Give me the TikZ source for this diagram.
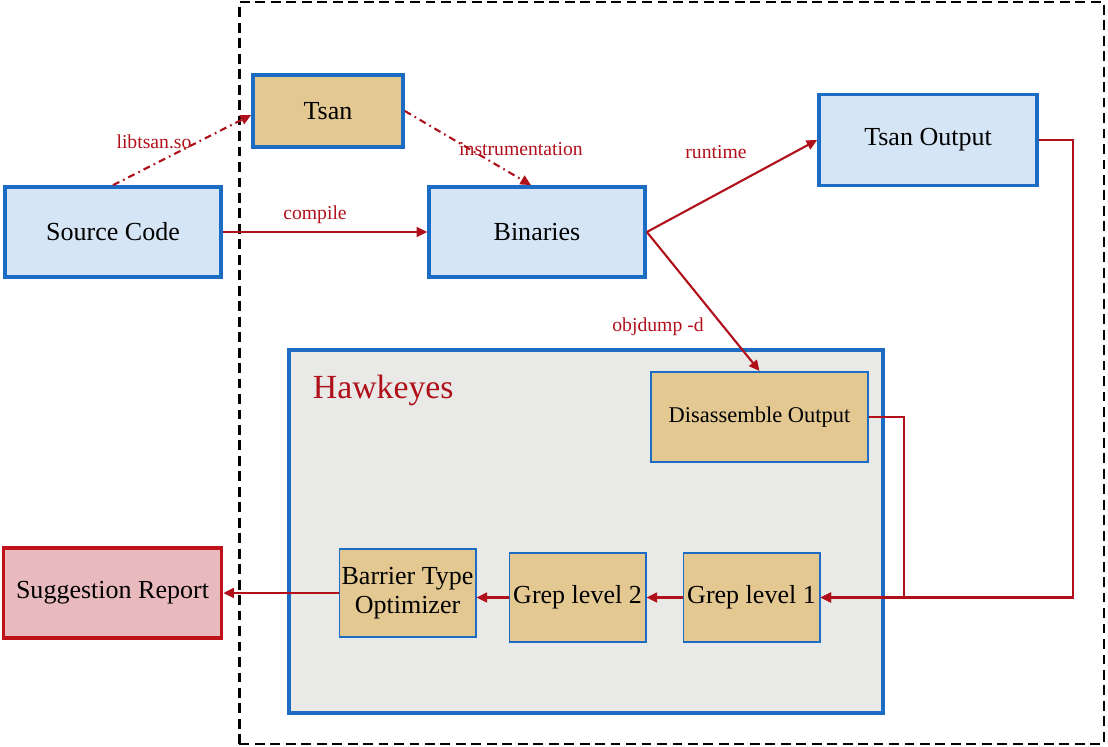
\documentclass[tikz,border=0pt]{standalone}
\usepackage{fontspec}
\setmainfont{Liberation Serif}
\usetikzlibrary{arrows.meta,calc}
\definecolor{HKblue}{HTML}{1C6CC4}
\definecolor{HKsky}{HTML}{D5E5F5}
\definecolor{HKtan}{HTML}{E4C892}
\definecolor{HKgrey}{HTML}{E9E9E7}
\definecolor{HKred}{HTML}{B0101A}
\definecolor{HKrose}{HTML}{E8B9BD}
\definecolor{HKdark}{HTML}{C0101A}
\tikzset{
  stagebox/.style={draw=HKblue, fill=HKsky, line width=2.6pt, align=center, minimum width=5.4cm, minimum height=2.25cm, font=\fontsize{18.5}{21}\selectfont},
  tanbox/.style={draw=HKblue, fill=HKtan, line width=1.4pt, align=center, minimum width=3.4cm, minimum height=2.22cm, inner sep=1pt, font=\fontsize{18.5}{21}\selectfont},
  reportbox/.style={draw=HKdark, fill=HKrose, line width=2.6pt, align=center, minimum width=5.45cm, minimum height=2.25cm, font=\fontsize{18.5}{21}\selectfont},
  flowline/.style={draw=HKred, line width=1.5pt, -{Triangle[length=7.5pt, width=7pt]}},
  toolline/.style={flowline, dash pattern=on 5pt off 3pt on 1.2pt off 3pt},
  edgetag/.style={text=HKred, font=\fontsize{14}{16}\selectfont, inner sep=1pt}
}
\begin{document}
\begin{tikzpicture}[x=0.025cm, y=-0.025cm]
\useasboundingbox (0,0) rectangle (1108,747);
% outer frame and Hawkeyes area
\node[draw=black, line width=1.6pt, dash pattern=on 7pt off 4pt, minimum width=21.6cm, minimum height=18.53cm] (frame) at (671.5,373) {};
\node[draw=HKblue, fill=HKgrey, line width=2.6pt, minimum width=14.85cm, minimum height=9.07cm] (hawk) at (586,531.5) {};
\node[anchor=west, text=HKred, font=\fontsize{24}{28}\selectfont] (hawktitle) at (308,390) {Hawkeyes};

% top row
\node[stagebox] (src) at (113,232) {Source Code};
\node[stagebox, fill=HKtan, minimum width=3.75cm, minimum height=1.8cm] (tsan) at (328,111) {Tsan};
\node[stagebox] (bin) at (537,232) {Binaries};
\node[stagebox, minimum width=5.45cm, minimum height=2.27cm] (tout) at (928,140) {Tsan Output};

% inside Hawkeyes
\node[tanbox, minimum width=5.42cm, minimum height=2.25cm, font=\fontsize{16}{19}\selectfont] (dis) at (759.5,417) {Disassemble Output};
\node[tanbox] (grep1) at (751.5,597.5) {Grep level 1};
\node[tanbox] (grep2) at (577.5,597.5) {Grep level 2};
\node[tanbox] (bto) at (407.5,593) {Barrier Type\\Optimizer};
\node[reportbox] (sugg) at (112.5,593) {Suggestion Report};

% connectors
\draw[toolline] (src.north) -- (tsan.west |- 0,115);
\draw[toolline] (tsan.east) -- ($(bin.north)+(-6,0)$);
\draw[flowline] (src.east) -- (bin.west);
\draw[flowline] (bin.east) -- (tout.west);
\draw[flowline] (bin.east) -- (dis.north);
\draw[flowline] (tout.east) -- ++(34,0) |- (grep1.east);
\draw[flowline] (dis.east) -- ++(35,0) |- (grep1.east);
\draw[flowline] (grep1.west) -- (grep2.east);
\draw[flowline] (grep2.west) -- (grep2.west -| bto.east);
\draw[flowline] (bto.west) -- (sugg.east);

% connector labels
\node[edgetag] (tlib) at (154,142) {libtsan.so};
\node[edgetag] (tins) at (521,149) {instrumentation};
\node[edgetag] (tcomp) at (315,215) {compile};
\node[edgetag] (trun) at (716,152) {runtime};
\node[edgetag] (tobj) at (658,327) {objdump -d};
\end{tikzpicture}
\end{document}
